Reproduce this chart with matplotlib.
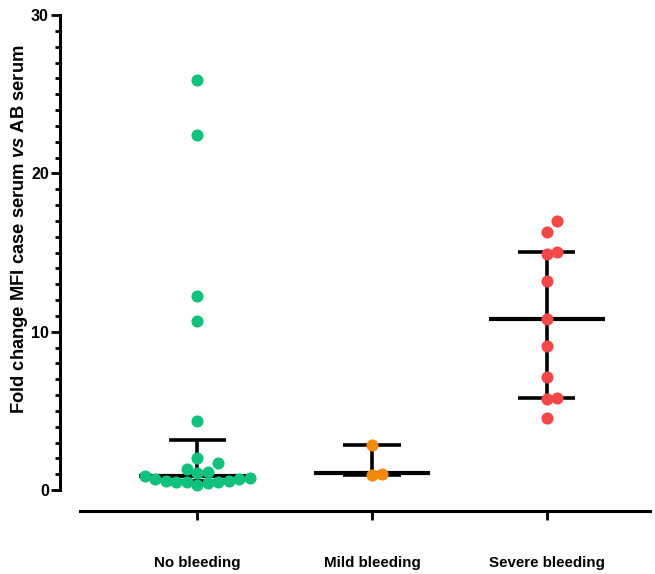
import matplotlib
matplotlib.use("Agg")
import matplotlib.pyplot as plt
from matplotlib.ticker import MultipleLocator
import numpy as np

plt.rcParams['font.family'] = ['Liberation Sans', 'DejaVu Sans']
plt.rcParams['font.weight'] = 'bold'
plt.rcParams['mathtext.fontset'] = 'custom'
plt.rcParams['mathtext.rm'] = 'Liberation Sans:bold'
plt.rcParams['mathtext.it'] = 'Liberation Sans:italic:bold'

# data
categories = ['No bleeding', 'Mild bleeding', 'Severe bleeding']
no_bleeding = [25.9, 22.4, 12.25, 10.7, 4.36, 2.04, 1.72, 1.31, 1.14, 1.09, 0.9,
               0.78, 0.69, 0.68, 0.59, 0.57, 0.52, 0.52, 0.49, 0.46, 0.32]
mild_bleeding = [2.82, 0.95, 1.01]
severe_bleeding = [16.97, 16.32, 15.01, 14.88, 13.2, 10.78, 9.12, 7.14, 5.81, 5.73, 4.53]
medians = [0.88, 1.05, 10.8]
q1 = [0.55, 0.95, 5.83]
q3 = [3.16, 2.82, 15.01]
colors = ['#12C17E', '#F5890C', '#F44848']

fig = plt.figure(figsize=(6.55, 5.74), dpi=100)
ax = fig.add_axes([80/655, 84/574, 570/655, 475/574])
ax.set_xlim(-0.669, 2.589)
ax.set_ylim(0, 30)


def swarm(center, values, diam=10.5, step=10.5):
    # simple beeswarm in pixel space
    pts = ax.transData.transform(np.column_stack([np.full(len(values), center), values]))
    placed = []
    xs = np.zeros(len(values))
    cands = [0.0]
    for k in range(1, 40):
        cands += [k*step, -k*step]
    for i in np.argsort(values):
        cx, cy = pts[i]
        for off in cands:
            if all((cx+off-px)**2 + (cy-py)**2 >= diam**2 for px, py in placed):
                break
        placed.append((cx+off, cy))
        xs[i] = cx + off
    return ax.transData.inverted().transform(np.column_stack([xs, pts[:, 1]]))[:, 0]


groups = [no_bleeding, mild_bleeding, severe_bleeding]
for i, vals in enumerate(groups):
    ax.vlines(i, q1[i], q3[i], color='black', lw=2.6, zorder=2)
    ax.hlines([q1[i], q3[i]], i-0.163, i+0.163, color='black', lw=2.6, zorder=2)
    ax.hlines(medians[i], i-0.33, i+0.33, color='black', lw=3.0, zorder=2)
    xs = swarm(i, vals)
    ax.scatter(xs, vals, s=76, color=colors[i], linewidths=0, zorder=3, clip_on=False)

for s in ['top', 'right']:
    ax.spines[s].set_visible(False)
ax.spines['left'].set_position(('outward', 14.4))
ax.spines['bottom'].set_position(('outward', 15))
ax.spines['left'].set_linewidth(2.2)
ax.spines['bottom'].set_linewidth(2.2)

ax.yaxis.set_major_locator(MultipleLocator(10))
ax.yaxis.set_minor_locator(MultipleLocator(1))
ax.tick_params(axis='y', which='major', length=6.5, width=2, labelsize=11.5, pad=1.5)
ax.tick_params(axis='y', which='minor', length=3.6, width=2)
ax.set_xticks([0, 1, 2])
ax.set_xticklabels(categories, fontsize=10.9, fontweight='bold')
ax.tick_params(axis='x', length=6.5, width=2, pad=26)

ax.set_ylabel(r'Fold change MFI case serum $\mathit{vs}$ AB serum', fontsize=13.2, fontweight='bold')
ax.yaxis.set_label_coords(-0.088, 0.55)

fig.savefig('out.png', dpi=100)
